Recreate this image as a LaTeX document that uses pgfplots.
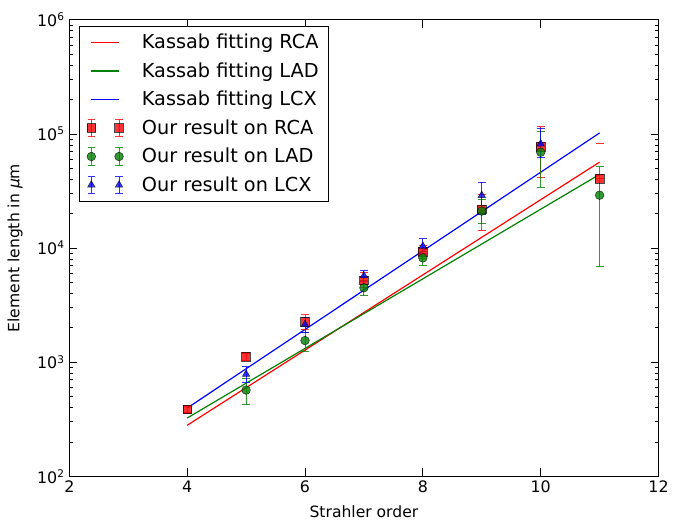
\documentclass[border=0pt]{standalone}
\usepackage{pgfplots}
\pgfplotsset{compat=1.18}
\usepackage{fontspec}
\setmainfont{DejaVu Sans}
\definecolor{mplgreen}{rgb}{0,0.5,0}
\pgfplotsset{
  linelegend/.style={legend image code/.code={\draw[#1, line width=0.9pt] (0pt,0pt)--(21pt,0pt);}},
  errlegend/.style 2 args={legend image code/.code={
    \draw[#1, opacity=0.8, line width=0.7pt] (0pt,-6.75pt)--(0pt,6.75pt) (-2.7pt,-6.75pt)--(2.7pt,-6.75pt) (-2.7pt,6.75pt)--(2.7pt,6.75pt)
      (21pt,-6.75pt)--(21pt,6.75pt) (18.3pt,-6.75pt)--(23.7pt,-6.75pt) (18.3pt,6.75pt)--(23.7pt,6.75pt);
    \draw plot[only marks, mark=#2, mark size=3.3pt, mark options={fill=#1, fill opacity=0.8, draw=black, draw opacity=0.7, line width=0.4pt}] coordinates {(0pt,0pt) (21pt,0pt)};
  }},
  errplot/.style 2 args={only marks, mark=#2, mark size=3.3pt,
    mark options={fill=#1, fill opacity=0.8, draw=black, draw opacity=0.7, line width=0.4pt},
    error bars/y dir=both, error bars/y explicit,
    error bars/error bar style={#1, opacity=0.8, line width=0.7pt},
    error bars/error mark options={rotate=90, mark size=3pt, #1, opacity=0.8, line width=0.7pt},
    errlegend={#1}{#2}},
}
\pgfplotstableread{
x y ep em
4 387 21 21
5 1118 84 84
6 2247 366 314
7 5225 836 732
8 9270 1181 1118
9 21840 7420 7524
10 77640 38350 35740
11 40440 0 0
}\rca
\pgfplotstableread{
x y ep em
5 570 146 146
6 1547 293 293
7 4494 732 679
8 8203 1202 1223
9 21110 5434 4703
10 69180 35010 35010
11 29050 22780 22196
}\lad
\pgfplotstableread{
x y ep em
5 784 125 115
6 2142 345 314
7 5716 606 596
8 10380 1745 1494
9 28950 8883 9092
10 81820 28950 20170
}\lcx
\begin{document}
\begin{tikzpicture}
\begin{axis}[
  scale only axis, width=446.25pt, height=345.75pt,
  xmin=2, xmax=12, ymode=log, ymin=1e2, ymax=1e6,
  xtick={2,4,6,8,10,12},
  ytick={1e2,1e3,1e4,1e5,1e6},
  yticklabels={10\textsuperscript{2},10\textsuperscript{3},10\textsuperscript{4},10\textsuperscript{5},10\textsuperscript{6}},
  /pgf/number format/assume math mode=true,
  tick label style={font=\fontsize{12}{14}\selectfont},
  xlabel={Strahler order},
  ylabel={Element length in {\itshape μ}m},
  every axis x label/.style={at={(axis description cs:0.5,-0.078)}, anchor=center, font=\fontsize{11.8}{14}\selectfont},
  every axis y label/.style={at={(axis description cs:-0.092,0.5)}, rotate=90, anchor=center, font=\fontsize{11.8}{14}\selectfont},
  tick align=inside, major tick length=6pt, minor tick length=3pt,
  tick style={black, line width=0.6pt},
  axis line style={line width=0.75pt},
  xtick pos=both, ytick pos=both,
  legend style={at={(axis description cs:0.0168,0.987)}, anchor=north west, draw=black, line width=0.75pt,
    font=\fontsize{14.6}{17.5}\selectfont, row sep=5pt, inner xsep=5.5pt, inner ysep=4pt,
    /tikz/every odd column/.append style={column sep=12pt}},
  legend cell align=left,
]
\addplot[red, line width=0.9pt, linelegend=red] coordinates {(4,280) (11,56640)};
\addlegendentry{Kassab fitting RCA}
\addplot[mplgreen, line width=0.9pt, linelegend=mplgreen] coordinates {(4,324) (11,44200)};
\addlegendentry{Kassab fitting LAD}
\addplot[blue, line width=0.9pt, linelegend=blue] coordinates {(4,396) (11,102100)};
\addlegendentry{Kassab fitting LCX}
\addplot[errplot={red}{square*}]
  table[x=x, y=y, y error plus=ep, y error minus=em] {\rca};
\addlegendentry{Our result on RCA}
\addplot[errplot={mplgreen}{*}]
  table[x=x, y=y, y error plus=ep, y error minus=em] {\lad};
\addlegendentry{Our result on LAD}
\addplot[errplot={blue}{triangle*}]
  table[x=x, y=y, y error plus=ep, y error minus=em] {\lcx};
\addlegendentry{Our result on LCX}
\addplot[only marks, mark=-, mark size=3pt, mark options={red, opacity=0.8, line width=0.7pt}, forget plot] coordinates {(11,82970)};
\end{axis}
\path ([xshift=-52.5pt,yshift=15pt]current axis.north west) -- ([xshift=6pt]current axis.north east);
\end{tikzpicture}
\end{document}
